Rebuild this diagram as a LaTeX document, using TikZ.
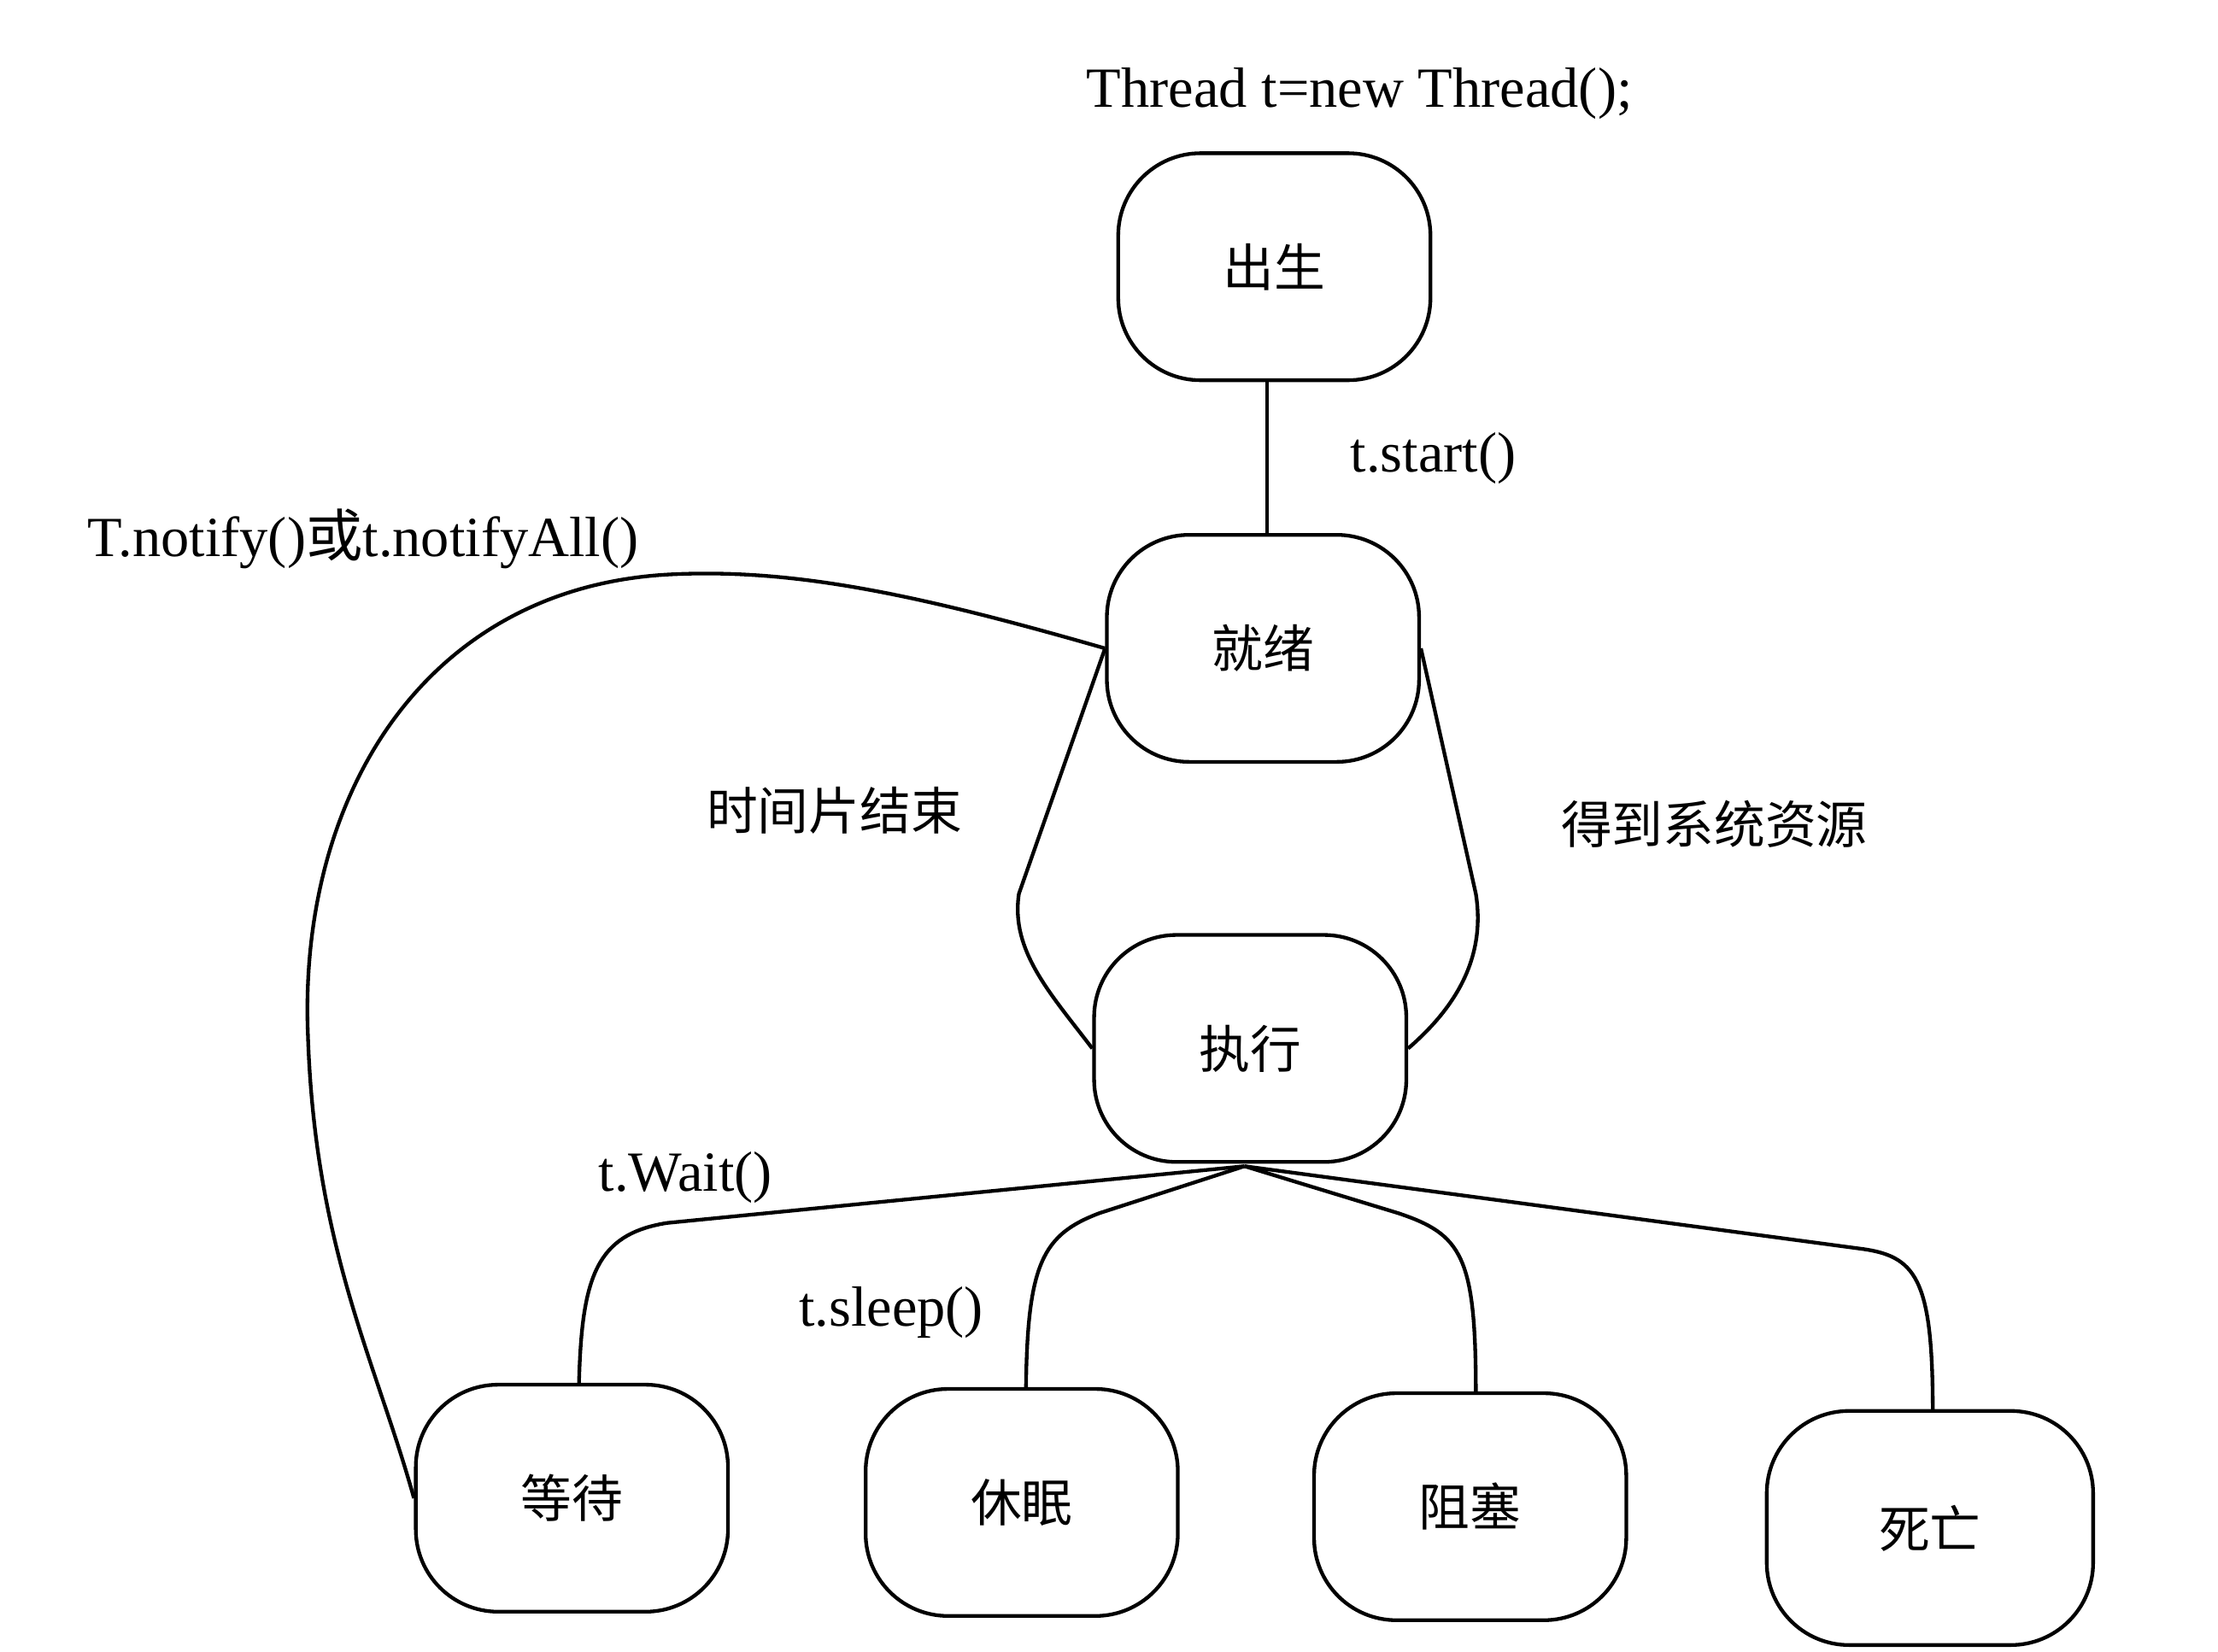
\documentclass[tikz,border=0pt]{standalone}
\usepackage{fontspec}
\setmainfont{Liberation Serif}
\newfontfamily\cjk{Noto Sans CJK SC}
\begin{document}
\begin{tikzpicture}[x=1pt,y=-1pt,
  st/.style={draw,line width=2.6pt,rounded corners=58pt,minimum width=220pt,minimum height=160pt,font=\cjk\fontsize{36}{40}\selectfont},
  lb/.style={font=\fontsize{40}{44}\selectfont},
  cl/.style={font=\cjk\fontsize{36}{40}\selectfont},
  ln/.style={line width=2.6pt}]
\useasboundingbox (0,0) rectangle (1563,1164);
\node[st] (born) at (898,188) {出生};
\node[st] (ready) at (890,457) {就绪};
\node[st] (run) at (881,739) {执行};
\node[st] (wait) at (403,1056) {等待};
\node[st] (sleep) at (720,1059) {休眠};
\node[st] (block) at (1036,1062) {阻塞};
\node[st,minimum width=230pt,minimum height=165pt] (dead) at (1360,1077) {死亡};
\coordinate (hub) at (877,822);
\node[lb] (l0) at (958,66) {Thread t=new Thread();};
\node[lb] (l1) at (1010,323) {t.start()};
\node[lb] (l2) at (256,380) {T.notify()\cjk 或\rmfamily t.notifyAll()};
\node[cl] (l3) at (588,571) {时间片结束};
\node[cl] (l4) at (1208,581) {得到系统资源};
\node[lb] (l5) at (483,830) {t.Wait()};
\node[lb] (l6) at (628,925) {t.sleep()};
\draw[ln] (born.south -| 893,0) -- (ready.north -| 893,0);
\draw[ln] (ready.west) -- (718,630) .. controls (712,670) and (740,700) .. (run.west);
\draw[ln] (ready.east) -- (1040,630) .. controls (1048,680) and (1020,715) .. (run.east);
\draw[ln] (hub) -- (470,862) .. controls (420,870) and (410,900) .. (408,975);
\draw[ln] (hub) -- (775,855) .. controls (735,870) and (724,890) .. (723,978);
\draw[ln] (hub) -- (985,855) .. controls (1030,870) and (1040,885) .. (1040,982);
\draw[ln] (hub) -- (1310,880) .. controls (1350,885) and (1362,900) .. (1362,995);
\draw[ln] (ready.west) .. controls (650,420) and (560,400) .. (470,405)
  .. controls (300,415) and (210,560) .. (217,730)
  .. controls (222,880) and (265,960) .. (wait.west);
\end{tikzpicture}
\end{document}
